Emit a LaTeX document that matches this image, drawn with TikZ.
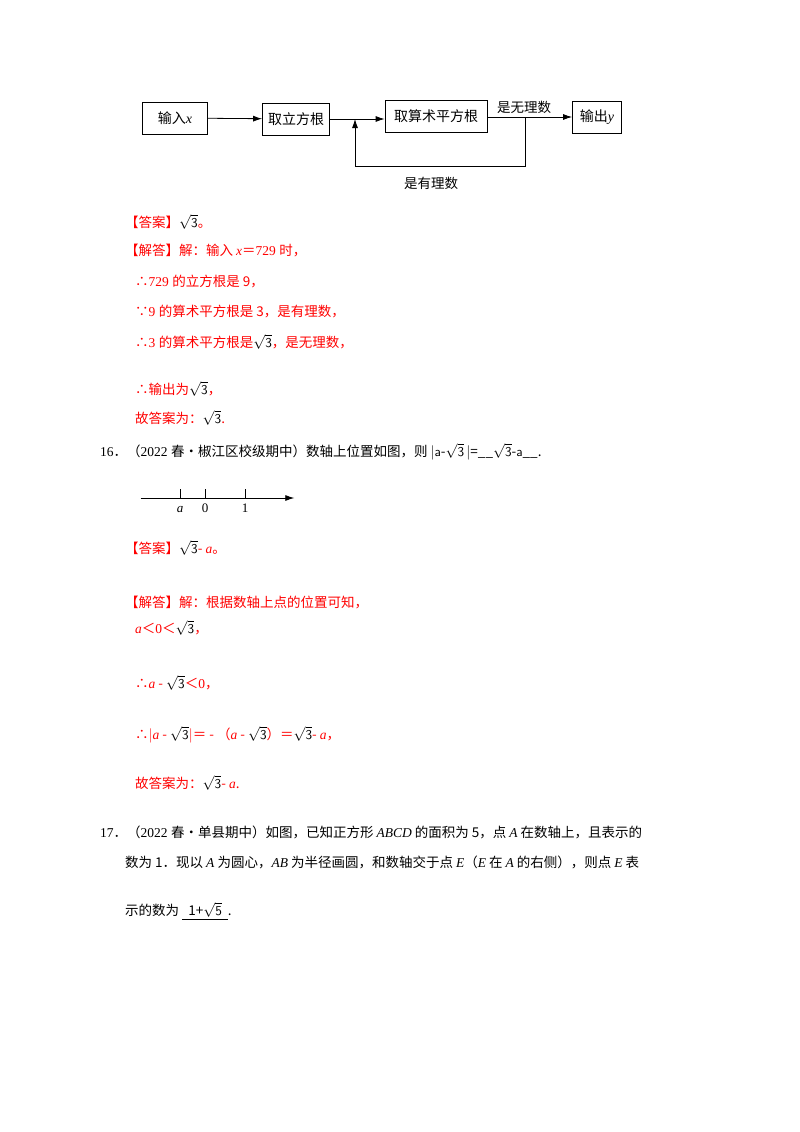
\documentclass[tikz,border=0pt]{standalone}
\usepackage{fontspec}
\setmainfont{Liberation Serif}
\newfontfamily\cjk{Noto Sans CJK SC}
\newXeTeXintercharclass\cjkcls
\count255="3000 \loop\ifnum\count255<"A000 \XeTeXcharclass\count255=\cjkcls \advance\count255 by 1 \repeat
\count255="FF00 \loop\ifnum\count255<"FFF0 \XeTeXcharclass\count255=\cjkcls \advance\count255 by 1 \repeat
\XeTeXcharclass"2234=\cjkcls \XeTeXcharclass"2235=\cjkcls \XeTeXcharclass"2022=\cjkcls
\XeTeXinterchartoks 0 \cjkcls = {\cjk}
\XeTeXinterchartoks 4095 \cjkcls = {\cjk}
\XeTeXinterchartoks \cjkcls 0 = {\rmfamily}
\XeTeXinterchartokenstate=1
\usetikzlibrary{arrows.meta}
\newcommand{\vi}[1]{{\rmfamily\itshape #1}}
\newcommand{\vs}[1]{{\sffamily #1}}
\newcommand{\sq}{\textcolor{black}{$\sqrt{\mathsf{3}}$}}
\newcommand{\sqf}{\textcolor{black}{$\sqrt{\mathsf{5}}$}}
\begin{document}
\begin{tikzpicture}[x=1pt,y=-1pt,
  box/.style={draw,thick,minimum height=32pt,inner sep=3pt,font=\fontsize{14}{16}\selectfont},
  arr/.style={thick,-{Latex[length=9pt,width=6pt]}},
  t/.style={anchor=base west,inner sep=0pt,font=\fontsize{13.5}{16}\selectfont},
  r/.style={t,text=red}]
\useasboundingbox (0,0) rectangle (800,1132);
\node[box,minimum width=65pt] (in) at (175,118) {输入\vi{x}};
\node[box,minimum width=67pt] (cb) at (296,119) {取立方根};
\node[box,minimum width=102pt] (sq) at (436,116) {取算术平方根};
\node[box,minimum width=49pt] (out) at (597,117) {输出\vi{y}};
\coordinate (j) at (355,119);
\coordinate (k) at (525,119);
\draw[arr] (in) -- (cb);
\draw[arr] (cb.east) -- (sq.west|-cb.east);
\draw[arr] (sq.east|-out.west) -- (out.west);
\draw[arr] (k|-out.west) -- (525,166) -- (355,166) -- (j);
\node[t] (l1) at (497,112) {是无理数};
\node[t] (l2) at (404,188) {是有理数};

\node[r] (a1) at (125,227) {【答案】\sq。};
\node[r] (a2) at (125,255) {【解答】解：输入 \vi{x}＝729 时，};
\node[r] (a3) at (135,286) {∴729 的立方根是 9，};
\node[r] (a4) at (135,316) {∵9 的算术平方根是 3，是有理数，};
\node[r] (a5) at (135,347) {∴3 的算术平方根是\sq，是无理数，};
\node[r] (a6) at (135,394) {∴输出为\sq，};
\node[r] (a7) at (135,423) {故答案为：\sq.};

\node[t] (q16) at (100,456) {16．（2022 春•椒江区校级期中）数轴上位置如图，则 $|$\vs{a}-\sq\,$|$=\_\_\sq -\vs{a}\_\_.};
\node[inner sep=0] (nl0) at (140,498) {};
\node[inner sep=0] (nl1) at (295,498) {};
\draw[thick,-{Latex[length=9pt,width=6pt]}] (nl0) -- (nl1);
\foreach \xx/\lab in {180/\vi{a},205/0,245/1}{
  \draw[thick] (\xx,489) -- (\xx,498);
  \node[anchor=base,font=\fontsize{13}{15}\selectfont] at (\xx,512) {\lab};}

\node[r] (b1) at (125,553) {【答案】\sq - \vi{a}。};
\node[r] (b2) at (125,607) {【解答】解：根据数轴上点的位置可知，};
\node[r] (b3) at (135,633) {\vi{a}＜0＜\sq，};
\node[r] (b4) at (135,688) {∴\vi{a} - \sq＜0，};
\node[r] (b5) at (135,739) {∴$|$\vi{a} - \sq$|$＝ - （\vi{a} - \sq）＝\sq - \vi{a}，};
\node[r] (b6) at (135,788) {故答案为：\sq - \vi{a}.};

\node[t] (q17a) at (100,837) {17．（2022 春•单县期中）如图，已知正方形 \vi{ABCD} 的面积为 5，点 \vi{A} 在数轴上，且表示的};
\node[t] (q17b) at (125,867) {数为 1．现以 \vi{A} 为圆心，\vi{AB} 为半径画圆，和数轴交于点 \vi{E}（\vi{E} 在 \vi{A} 的右侧），则点 \vi{E} 表};
\node[t] (q17c) at (125,915) {示的数为 \underline{\ \ 1+\sqf\ \ }.};
\end{tikzpicture}
\end{document}
